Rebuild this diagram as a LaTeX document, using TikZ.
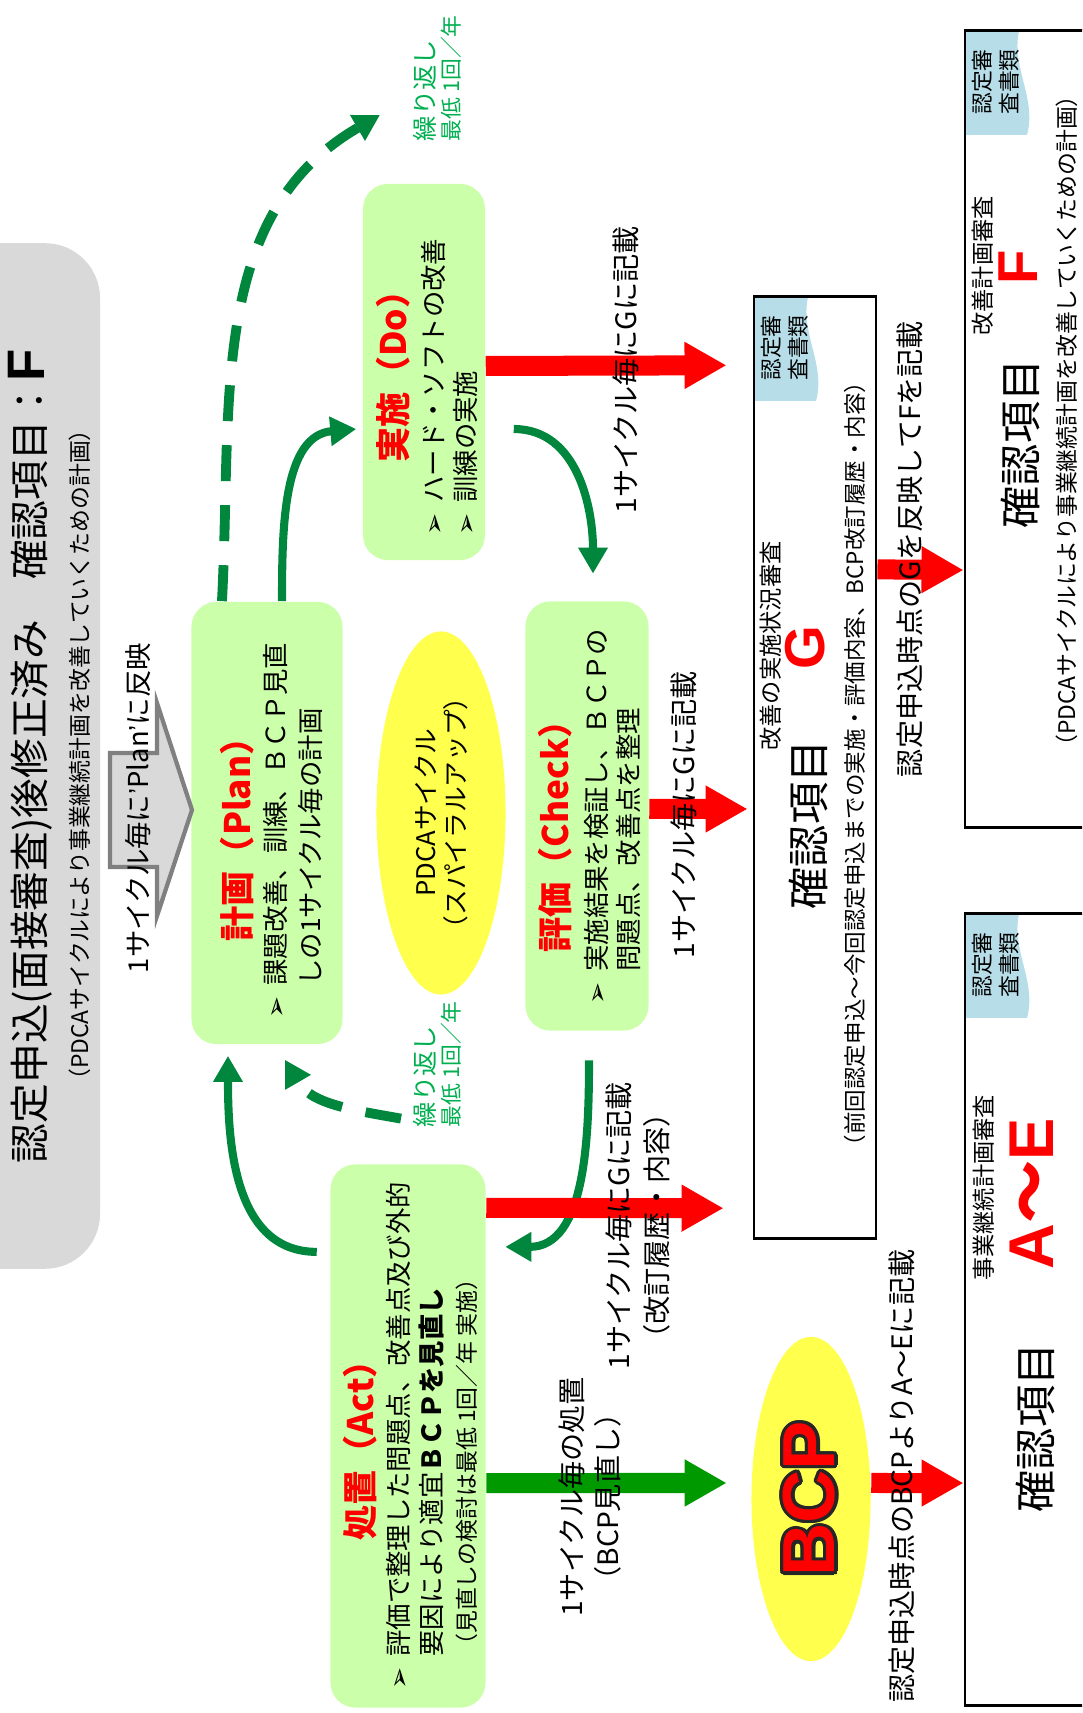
\documentclass[tikz,border=0pt]{standalone}
\usepackage{fontspec}
\setmainfont{Noto Sans CJK JP}
\newfontfamily\latinfont{Liberation Sans}
\newfontfamily\dingfont{DejaVu Sans}
\usepackage[copies]{contour}
\usetikzlibrary{arrows.meta,shapes.geometric,positioning}

\definecolor{boxgreen}{RGB}{204,255,170}
\definecolor{titlegray}{RGB}{217,217,217}
\definecolor{arrowgray}{RGB}{128,128,128}
\definecolor{cyclegreen}{RGB}{0,134,61}
\definecolor{labelgreen}{RGB}{0,176,80}
\definecolor{blockgreen}{RGB}{0,153,0}
\definecolor{pdcayellow}{RGB}{255,255,77}
\definecolor{tagblue}{RGB}{183,222,232}

\newcommand{\bul}{{\dingfont\fontsize{7.5}{7.5}\selectfont ➢}}
% light blue tag in the upper right corner of a box
\newcommand{\shinsatag}[3]{%
  \fill[tagblue] (#2-104,#3) -- (#2,#3) -- (#2,#3+54)
    .. controls (#2-36,#3+46) and (#2-68,#3+72) .. (#2-104,#3+62) -- cycle;
  \node[tagtext] (#1) at (#2-51,#3+31) {認定審\\査書類};
}

\tikzset{
  headbox/.style={fill=titlegray, rounded corners=0.55cm, minimum width=10.25cm, minimum height=2cm, inner sep=0pt},
  headtext/.style={font=\fontsize{11.3}{13}\selectfont, inner sep=0pt},
  notetext/.style={font=\fontsize{6.5}{8}\selectfont, inner sep=0pt},
  phase/.style={fill=boxgreen, rounded corners=0.25cm, inner sep=0pt},
  phasetitle/.style={text=red, font=\fontsize{10}{12}\selectfont\bfseries, inner sep=0pt},
  phasebody/.style={font=\fontsize{7.5}{10}\selectfont, inner sep=0pt, anchor=base west},
  spiral/.style={ellipse, fill=pdcayellow, inner sep=0pt},
  itembox/.style={draw=black, line width=0.8pt, inner sep=0pt},
  itemtext/.style={font=\fontsize{12}{14}\selectfont, inner sep=0pt},
  itemletter/.style={text=red, font=\latinfont\bfseries\fontsize{16}{18}\selectfont, inner sep=0pt},
  tagtext/.style={font=\fontsize{6.2}{7.7}\selectfont, align=left, inner sep=0pt},
  flowlabel/.style={font=\fontsize{8}{10.8}\selectfont, align=center, inner sep=0pt},
  replabel/.style={text=labelgreen, font=\fontsize{6.2}{7.2}\selectfont, align=left, inner sep=0pt, anchor=west},
  cyclearrow/.style={draw=cyclegreen, line width=2.3pt, -{Triangle[width=0.28cm,length=0.26cm]}},
  repeatarrow/.style={cyclearrow, line width=2.8pt, dash pattern=on 0.36cm off 0.24cm},
  recordarrow/.style={draw=red, line width=0.2cm, -{Triangle[width=0.44cm,length=0.42cm]}},
  revisearrow/.style={recordarrow, draw=blockgreen},
  reflectarrow/.style={fill=titlegray, draw=arrowgray, line width=1.2pt},
}

\begin{document}
\begin{tikzpicture}
\begin{scope}[rotate=90, x=0.01cm, y=-0.01cm, transform shape]
  \useasboundingbox (0,0) rectangle (1713,1082);
  \clip (0,0) rectangle (1713,1082);

  % Define nodes
  \node[headbox] (head) at (957,0) {};
  \node[headtext] (headline) at (957,30) {認定申込(面接審査)後修正済み　確認項目：{\latinfont\bfseries\fontsize{15}{15}\selectfont F}};
  \node[notetext] (headnote) at (958,80) {（PDCAサイクルにより事業継続計画を改善していくための計画）};

  \node[phase, minimum width=4.42cm, minimum height=1.51cm] (plan) at (890,267) {};
  \node[phasetitle] (plantitle) at (882,237) {計画（Plan）};
  \node[phasebody] (planbody) at (694,285) {\begin{tabular}[t]{@{}l@{\hspace{3pt}}l@{}}\bul & 課題改善、訓練、ＢＣＰ見直\\ & しの1サイクル毎の計画\end{tabular}};

  \node[phase, minimum width=3.76cm, minimum height=1.22cm] (do) at (1341,424) {};
  \node[phasetitle] (dotitle) at (1345,393) {実施（Do）};
  \node[phasebody, font=\fontsize{7.5}{9.1}\selectfont] (dobody) at (1177,443) {\begin{tabular}[t]{@{}l@{\hspace{3pt}}l@{}}\bul & ハード・ソフトの改善\\ \bul & 訓練の実施\end{tabular}};

  \node[phase, minimum width=4.29cm, minimum height=1.23cm] (check) at (897,587) {};
  \node[phasetitle] (checktitle) at (885,555) {評価（Check）};
  \node[phasebody, font=\fontsize{7.5}{9.1}\selectfont] (checkbody) at (708,606) {\begin{tabular}[t]{@{}l@{\hspace{3pt}}l@{}}\bul & 実施結果を検証し、ＢＣＰの\\ & 問題点、改善点を整理\end{tabular}};

  \node[phase, minimum width=5.43cm, minimum height=1.55cm] (act) at (277,408) {};
  \node[phasetitle] (acttitle) at (271,360) {処置（Act）};
  \node[phasebody, font=\fontsize{7.5}{9.6}\selectfont] (actbody) at (23,408) {\begin{tabular}[t]{@{}l@{\hspace{3pt}}l@{}}\bul & 評価で整理した問題点、改善点及び外的\\ & 要因により適宜\textbf{ＢＣＰを見直し}\\ & {\fontsize{6.5}{8}\selectfont （見直しの検討は最低 1回／年 実施）}\end{tabular}};

  \node[spiral, minimum width=3.21cm, minimum height=1.29cm, font=\fontsize{7.3}{8.5}\selectfont, align=center] (pdca) at (900,441) {PDCAサイクル\\（スパイラルアップ）};
  \node[spiral, minimum width=3.24cm, minimum height=1.19cm, font=\latinfont\bfseries\fontsize{21}{21}\selectfont] (bcp) at (214,811) {\contourlength{0.9pt}\textcolor{red}{\contour{black!85}{BCP}}};

  \shinsatag{gtag}{1416}{754}
  \node[itembox, minimum width=9.41cm, minimum height=1.22cm] (gbox) at (945.5,815) {};
  \node[notetext, font=\fontsize{6.6}{8}\selectfont] (gcheck) at (1067,771) {改善の実施状況審査};
  \node[itemletter] (gletter) at (1065,805) {G};
  \node[itemtext] (gitem) at (888,808) {確認項目};
  \node[notetext, font=\fontsize{6.4}{8}\selectfont] (gnote) at (949,855) {（前回認定申込～今回認定申込までの実施・評価内容、BCP改訂履歴・内容）};

  \shinsatag{ftag}{1682}{965}
  \node[itembox, minimum width=7.96cm, minimum height=1.5cm] (fbox) at (1284,1040) {};
  \node[notetext, font=\fontsize{6.6}{8}\selectfont] (fcheck) at (1447,983) {改善計画審査};
  \node[itemletter] (fletter) at (1446,1018) {F};
  \node[itemtext] (fitem) at (1269,1020) {確認項目};
  \node[notetext] (fnote) at (1292,1067) {（PDCAサイクルにより事業継続計画を改善していくための計画）};

  \shinsatag{aetag}{799}{965}
  \node[itembox, minimum width=7.91cm, minimum height=1.5cm] (aebox) at (403.5,1040) {};
  \node[notetext, font=\fontsize{6.6}{8}\selectfont] (aecheck) at (525,984) {事業継続計画審査};
  \node[itemletter, font=\latinfont\bfseries\fontsize{18}{20}\selectfont] (aeletter) at (519,1032) {A{\normalfont\bfseries ～}E};
  \node[itemtext] (aeitem) at (285,1035) {確認項目};

  % Connect the nodes
  \draw[cyclearrow] ([yshift=-0.15cm]plan.east) to[out=0,in=95] ([xshift=-0.57cm,yshift=0.06cm]do.north);
  \draw[cyclearrow] ([xshift=-0.57cm,yshift=-0.28cm]do.south) to[out=-90,in=0] ([xshift=0.27cm,yshift=-0.06cm]check.east);
  \draw[cyclearrow] ([xshift=-0.29cm,yshift=-0.02cm]check.west) to[out=180,in=-90] ([xshift=1.89cm,yshift=-0.19cm]act.south);
  \draw[cyclearrow] ([xshift=1.84cm,yshift=0.13cm]act.north) to[out=90,in=180] ([xshift=-0.11cm,yshift=0.39cm]plan.west);

  \coordinate (repeatend) at (1598,380);
  \draw[repeatarrow] ([yshift=0.45cm]plan.east) to[out=-3,in=120] (repeatend);
  \draw[repeatarrow] ([xshift=0.45cm,yshift=0.07cm]act.east) to[out=80,in=210] ([xshift=-0.15cm,yshift=-0.18cm]plan.west);

  \draw[recordarrow, shorten >=0.26cm] ([xshift=0.06cm]do.south) -- ([xshift=4.02cm]gbox.north);
  \draw[recordarrow, shorten >=0.05cm] ([xshift=0.07cm]check.south) -- ([xshift=-0.415cm]gbox.north);
  \draw[recordarrow, shorten >=0.29cm] ([xshift=2.28cm]act.south) -- ([xshift=-4.405cm]gbox.north);
  \draw[recordarrow] ([xshift=1.98cm]gbox.south) -- ([xshift=-1.41cm]fbox.north);
  \draw[recordarrow] ([xshift=0.16cm]bcp.south) -- ([xshift=-1.735cm]aebox.north);
  \draw[revisearrow, shorten >=0.24cm] ([xshift=-0.47cm]act.south) -- ([xshift=0.16cm]bcp.north);

  \filldraw[reflectarrow] (846,110) -- (960,110) -- (960,157) -- (1010,157) -- (903,192) -- (797,157) -- (846,157) -- cycle;

  % Labels
  \node[flowlabel, font=\fontsize{7.8}{10}\selectfont] (reflectlbl) at (905,138) {1サイクル毎に{\latinfont ’}Plan{\latinfont ’}に反映};
  \node[flowlabel] (dolbl) at (1343,626) {1サイクル毎にGに記載};
  \node[flowlabel] (checklbl) at (898,684) {1サイクル毎にGに記載};
  \node[flowlabel] (actlbl) at (487,638) {1サイクル毎にGに記載\\（改訂履歴・内容）};
  \node[flowlabel, font=\fontsize{8}{10}\selectfont] (revlbl) at (216,590) {1サイクル毎の処置\\（BCP見直し）};
  \node[flowlabel] (glbl) at (1164,910) {認定申込時点のGを反映してFを記載};
  \node[flowlabel, anchor=east] (aelbl) at (464,902) {認定申込時点のBCPよりA～Eに記載};
  \node[replabel] (repeatlbl) at (1571,437) {{\fontsize{7.2}{7.2}\selectfont 繰り返し}\\最低 1回／年};
  \node[replabel] (actrepeatlbl) at (585,437) {{\fontsize{7.2}{7.2}\selectfont 繰り返し}\\最低 1回／年};
\end{scope}
\end{tikzpicture}
\end{document}
